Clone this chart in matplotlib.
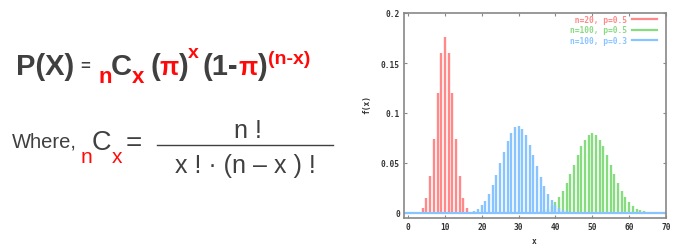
import matplotlib
matplotlib.use("Agg")
import matplotlib.pyplot as plt
from matplotlib.lines import Line2D

# --- data (binomial pmf impulses) ---
x_red = list(range(0, 21))
y_red = [0.000001, 0.00002, 0.0002, 0.0011, 0.0046, 0.0148, 0.0370, 0.0739,
         0.1201, 0.1602, 0.1762, 0.1602, 0.1201, 0.0739, 0.0370, 0.0148,
         0.0046, 0.0011, 0.0002, 0.00002, 0.000001]

x_green = list(range(30, 71))
y_green = [0.00002, 0.00005, 0.00011, 0.00023, 0.00046, 0.00086, 0.00156,
           0.0027, 0.0045, 0.0071, 0.0108, 0.0159, 0.0223, 0.0301, 0.0390,
           0.0485, 0.0580, 0.0666, 0.0735, 0.0780, 0.0796, 0.0780, 0.0735,
           0.0666, 0.0580, 0.0485, 0.0390, 0.0301, 0.0223, 0.0159, 0.0108,
           0.0071, 0.0045, 0.0027, 0.00156, 0.00086, 0.00046, 0.00023,
           0.00011, 0.00005, 0.00002]

x_blue = list(range(13, 51))
y_blue = [0.00004, 0.0001, 0.00025, 0.00057, 0.0012, 0.0024, 0.0044, 0.0076,
          0.0124, 0.0190, 0.0277, 0.0381, 0.0496, 0.0613, 0.0720, 0.0804,
          0.0856, 0.0868, 0.0840, 0.0776, 0.0685, 0.0579, 0.0468, 0.0362,
          0.0268, 0.0191, 0.0130, 0.0085, 0.0053, 0.0032, 0.00185, 0.00103,
          0.00055, 0.00028, 0.00014, 0.00007, 0.00003, 0.00001]

labels = [" n=20, p=0.5", "n=100, p=0.5", "n=100, p=0.3"]
colors = ["#ff8888", "#88dc80", "#88c4ff"]
xticks = [0, 10, 20, 30, 40, 50, 60, 70]
yticks = [0, 0.05, 0.1, 0.15, 0.2]
ytick_labels = ["0", "0.05", "0.1", "0.15", "0.2"]

W, H = 682, 251
fig = plt.figure(figsize=(W / 100, H / 100), dpi=100)

DARK = "#404040"
RED = "#ff0a0a"
SANS = "Liberation Sans"


def put(px, py, s, size, color=DARK, weight="bold", va="baseline", ha="left"):
    fig.text(px / W, 1 - py / H, s, fontsize=size, color=color,
             fontweight=weight, family=SANS, va=va, ha=ha)


# --- formula, line 1 ---
put(16, 75, "P(X)", 21)
put(80, 66, "=", 12, va="center")
put(98, 83, "n", 16, RED)
put(111, 75, "C", 21)
put(132, 83, "x", 16, RED)
put(150, 75, "(", 21)
put(159, 75, "\u03c0", 18, RED)
put(178.5, 75, ")", 21)
put(188, 58, "x", 14, RED)
put(202, 75, "(1-", 21)
put(238, 75, "\u03c0", 18, RED)
put(257.5, 75, ")", 21)
put(268, 64, "(n-x)", 14, RED)

# --- formula, line 2 ---
put(12, 147, "Where,", 14.5, weight="normal")
put(81, 163, "n", 15, RED, weight="normal")
put(92, 149.5, "C", 19.5, weight="normal")
put(112, 163, "x", 15, RED, weight="normal")
put(126, 143.5, "=", 20, weight="normal", va="center")
put(248, 138, "n !", 18, weight="normal", ha="center")
put(245, 173, "x ! \u00b7 (n \u2013 x ) !", 18, weight="normal", ha="center")
fig.add_artist(Line2D([157 / W, 333 / W], [1 - 146 / H, 1 - 146 / H],
                      color=DARK, lw=1.0))

# --- chart ---
ax = fig.add_axes([404 / W, 1 - 219 / H, 262 / W, 205 / H])
for xs, ys, c, lab in zip([x_red, x_green, x_blue], [y_red, y_green, y_blue],
                          colors, labels):
    ax.vlines(xs, 0, ys, color=c, lw=1.7)
    ax.plot([], [], color=c, lw=1.6, label=lab)
ax.axhline(0, color=colors[2], lw=1.6)

ax.set_xlim(-1.1, 70)
ax.set_ylim(-0.005, 0.2)
ax.set_xticks(xticks)
ax.set_yticks(yticks)
ax.set_yticklabels(ytick_labels)

tick_font = dict(family="DejaVu Sans Mono", weight="bold", size=5.7)
for lab in ax.get_xticklabels() + ax.get_yticklabels():
    lab.set_fontfamily(tick_font["family"])
    lab.set_fontweight(tick_font["weight"])
    lab.set_fontsize(tick_font["size"])
    lab.set_color("#333333")
ax.tick_params(direction="in", length=2.5, width=0.8, color="#888888",
               top=True, right=True, pad=3)
for s in ax.spines.values():
    s.set_color("#888888")
    s.set_linewidth(1.2)

fig.text(367 / W, 1 - 104 / H, "f(x)", rotation=90, ha="center", va="center",
         color="#333333", **tick_font)
fig.text(534 / W, 1 - 242 / H, "x", ha="center", va="center",
         color="#333333", **tick_font)

ax.legend(loc="upper right", bbox_to_anchor=(253 / 262, 1 - 2 / 205),
          frameon=False, markerfirst=False, labelcolor="linecolor",
          prop=tick_font, handlelength=3.2, handletextpad=0.6,
          labelspacing=0.18, borderpad=0, borderaxespad=0)

fig.savefig("out.png", dpi=100)
